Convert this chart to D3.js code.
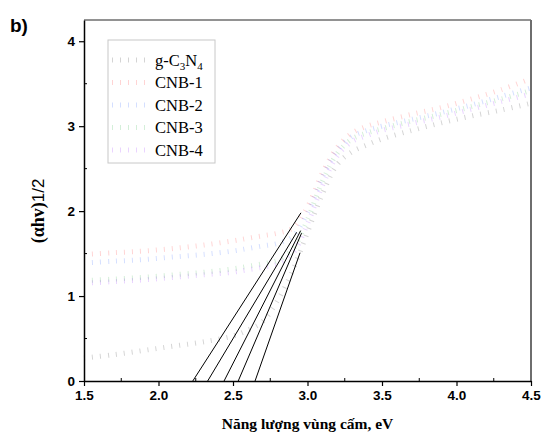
<!DOCTYPE html>
<html>
<head>
<meta charset="utf-8">
<script src="https://cdn.jsdelivr.net/npm/d3@7"></script>
<style>
  body { margin: 0; background: #fff; }
  svg { display: block; }
</style>
</head>
<body>
<svg id="chart" width="543" height="439"></svg>
<script>
// Tauc plot: (αhν)^1/2 versus photon energy for g-C3N4 and CNB samples
const energy = [1.5, 1.7, 1.9, 2.1, 2.3, 2.5, 2.6, 2.7, 2.8, 2.9, 3.0, 3.1, 3.2, 3.3, 3.4, 3.5, 3.7, 3.9, 4.1, 4.3, 4.5];
const seriesNames = ["g-C3N4", "CNB-1", "CNB-2", "CNB-3", "CNB-4"];
const seriesColors = ["#000000", "#ff0000", "#0040ff", "#00a020", "#8000ff"];
const gC3N4 = [0.27, 0.31, 0.36, 0.41, 0.46, 0.53, 0.60, 0.70, 0.95, 1.30, 1.75, 2.20, 2.55, 2.70, 2.78, 2.85, 2.95, 3.04, 3.12, 3.19, 3.27];
const cnb1  = [1.49, 1.51, 1.53, 1.56, 1.60, 1.65, 1.68, 1.71, 1.74, 1.80, 2.05, 2.45, 2.75, 2.92, 3.00, 3.05, 3.14, 3.22, 3.32, 3.43, 3.56];
const cnb2  = [1.39, 1.41, 1.43, 1.46, 1.49, 1.53, 1.56, 1.59, 1.62, 1.70, 1.98, 2.40, 2.72, 2.88, 2.95, 3.00, 3.08, 3.16, 3.25, 3.35, 3.45];
const cnb3  = [1.18, 1.20, 1.22, 1.25, 1.28, 1.32, 1.35, 1.38, 1.42, 1.55, 1.90, 2.35, 2.68, 2.85, 2.92, 2.97, 3.06, 3.14, 3.23, 3.32, 3.42];
const cnb4  = [1.15, 1.17, 1.19, 1.22, 1.25, 1.28, 1.31, 1.34, 1.38, 1.50, 1.85, 2.30, 2.65, 2.82, 2.89, 2.95, 3.03, 3.11, 3.20, 3.29, 3.38];
const seriesValues = [gC3N4, cnb1, cnb2, cnb3, cnb4];

// Linear extrapolations to the energy axis (band gap estimates)
const gapX0 = [2.23, 2.33, 2.44, 2.535, 2.648];
const gapX1 = [2.956, 2.927, 2.954, 2.96, 2.95];
const gapY1 = [1.98, 1.75, 1.77, 1.74, 1.51];

const xTicks = [1.5, 2.0, 2.5, 3.0, 3.5, 4.0, 4.5];
const xMinor = [1.75, 2.25, 2.75, 3.25, 3.75, 4.25];
const yTicks = [0, 1, 2, 3, 4];
const yMinor = [0.5, 1.5, 2.5, 3.5];

const svg = d3.select("#chart");
const plotLeft = 84, plotRight = 531, plotTop = 20, plotBottom = 381;

const x = d3.scaleLinear().domain([1.5, 4.5]).range([plotLeft, plotRight]);
const y = d3.scaleLinear().domain([0, 4.25]).range([plotBottom, plotTop]);

// data curves: thick, sparse dash gives short cross-hatched strokes
const line = d3.line().x(d => x(d[0])).y(d => y(d[1])).curve(d3.curveCatmullRom);
seriesValues.forEach((vals, i) => {
  svg.append("path")
    .datum(energy.map((e, k) => [e, vals[k]]))
    .attr("d", line)
    .attr("fill", "none")
    .attr("stroke", seriesColors[i])
    .attr("stroke-opacity", 0.17)
    .attr("stroke-width", 5)
    .attr("stroke-dasharray", "1 7");
});

// tangent lines
gapX0.forEach((x0, i) => {
  svg.append("line")
    .attr("x1", x(x0)).attr("y1", y(0))
    .attr("x2", x(gapX1[i])).attr("y2", y(gapY1[i]))
    .attr("stroke", "#000").attr("stroke-width", 1);
});

// frame: top and right edges
svg.append("line").attr("x1", plotLeft).attr("x2", plotRight).attr("y1", plotTop).attr("y2", plotTop)
  .attr("stroke", "#6e6e6e").attr("stroke-width", 1.5);
svg.append("line").attr("x1", plotRight).attr("x2", plotRight).attr("y1", plotTop).attr("y2", plotBottom)
  .attr("stroke", "#6e6e6e").attr("stroke-width", 2);

// bottom axis
const xAxis = svg.append("g").attr("transform", `translate(0,${plotBottom})`)
  .call(d3.axisBottom(x).tickValues(xTicks).tickFormat(d3.format(".1f")).tickSizeInner(5).tickSizeOuter(0));
xAxis.select(".domain").attr("stroke", "#000").attr("stroke-width", 1.5);
xAxis.selectAll(".tick line").attr("stroke-width", 1.2);
xAxis.selectAll("text").attr("font-family", "Arial, 'Liberation Sans', sans-serif")
  .attr("font-weight", "bold").attr("font-size", 13.5).attr("fill", "#000").attr("dy", "0.85em");
xAxis.selectAll(".minor").data(xMinor).enter().append("line")
  .attr("x1", d => x(d)).attr("x2", d => x(d)).attr("y1", 0).attr("y2", -3)
  .attr("stroke", "#000").attr("stroke-width", 1);

// left axis
const yAxis = svg.append("g").attr("transform", `translate(${plotLeft},0)`)
  .call(d3.axisLeft(y).tickValues(yTicks).tickFormat(d3.format("d")).tickSizeInner(5).tickSizeOuter(0));
yAxis.select(".domain").attr("stroke", "#000").attr("stroke-width", 1.5);
yAxis.selectAll(".tick line").attr("stroke-width", 1.2);
yAxis.selectAll("text").attr("font-family", "Arial, 'Liberation Sans', sans-serif")
  .attr("font-weight", "bold").attr("font-size", 13.5).attr("fill", "#000").attr("x", -9);
yAxis.selectAll(".minor").data(yMinor).enter().append("line")
  .attr("x1", 0).attr("x2", 3).attr("y1", d => y(d)).attr("y2", d => y(d))
  .attr("stroke", "#000").attr("stroke-width", 1);

// axis titles
svg.append("text")
  .attr("x", (plotLeft + plotRight) / 2).attr("y", 429)
  .attr("text-anchor", "middle")
  .attr("font-family", "'Times New Roman', 'Liberation Serif', serif")
  .attr("font-weight", "bold").attr("font-size", 15.5)
  .text("Năng lượng vùng cấm, eV");

const yTitle = svg.append("text")
  .attr("transform", `translate(44,211) rotate(-90)`)
  .attr("text-anchor", "middle");
yTitle.append("tspan")
  .attr("font-family", "'Times New Roman', 'Liberation Serif', serif")
  .attr("font-weight", "bold").attr("font-size", 18)
  .text("(αhv)");
yTitle.append("tspan")
  .attr("font-family", "Arial, 'Liberation Sans', sans-serif")
  .attr("font-size", 17)
  .text("1/2");

// panel label
svg.append("text").attr("x", 10).attr("y", 32)
  .attr("font-family", "Arial, 'Liberation Sans', sans-serif")
  .attr("font-weight", "bold").attr("font-size", 19)
  .text("b)");

// legend
const legend = svg.append("g");
legend.append("rect").attr("x", 108).attr("y", 40).attr("width", 107).attr("height", 123)
  .attr("fill", "#fff").attr("stroke", "#c8c8c8").attr("stroke-width", 1);
seriesNames.forEach((name, i) => {
  const cy = 60 + i * 22.5;
  legend.append("line").attr("x1", 112).attr("x2", 152).attr("y1", cy).attr("y2", cy)
    .attr("stroke", seriesColors[i]).attr("stroke-opacity", 0.17)
    .attr("stroke-width", 5).attr("stroke-dasharray", "1 7");
  const t = legend.append("text").attr("x", 155).attr("y", cy + 5.5)
    .attr("font-family", "'Times New Roman', 'Liberation Serif', serif")
    .attr("font-size", 16.5).attr("fill", "#000");
  if (name === "g-C3N4") {
    t.append("tspan").text("g-C");
    t.append("tspan").attr("font-size", 11).attr("dy", 4).text("3");
    t.append("tspan").attr("dy", -4).text("N");
    t.append("tspan").attr("font-size", 11).attr("dy", 4).text("4");
  } else {
    t.text(name);
  }
});
</script>
</body>
</html>
